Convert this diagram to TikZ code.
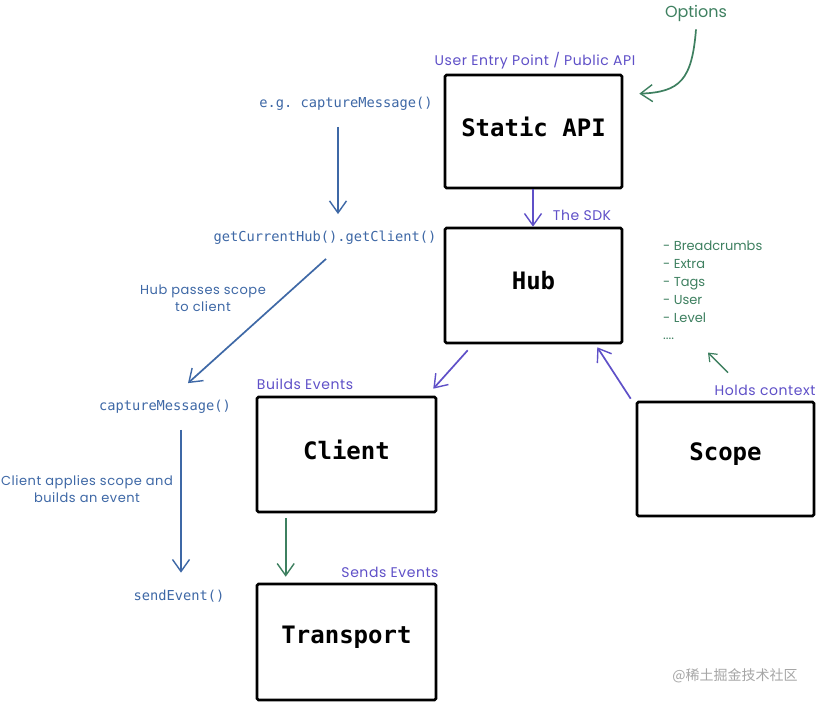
\documentclass[tikz,border=0pt]{standalone}
\usepackage{fontspec}
\setmainfont{Poppins}
\setmonofont{DejaVu Sans Mono}
\newfontfamily\cjkfont{Noto Sans CJK SC}
\newfontfamily\handfont[LetterSpace=4]{Poppins}
\usetikzlibrary{arrows.meta,calc}
\definecolor{blueC}{RGB}{62,104,166}
\definecolor{purpC}{RGB}{95,80,200}
\definecolor{greenC}{RGB}{62,128,96}
\tikzset{
  box/.style={draw=black,line width=2.6pt,rounded corners=1.5pt,fill=white},
  boxtext/.style={font=\ttfamily\bfseries\fontsize{24}{28}\selectfont},
  code/.style={text=blueC,font=\ttfamily\fontsize{13.7}{16}\selectfont,inner sep=2pt},
  hand/.style={font=\handfont\fontsize{14}{16}\selectfont,inner sep=1pt},
  arr/.style={line width=1.7pt,-{Straight Barb[length=12pt,width=17pt,line width=1.4pt]}},
}
\begin{document}
\begin{tikzpicture}[x=1pt,y=-1pt]
\useasboundingbox[fill=white] (0,0) rectangle (828,704);
% boxes
\node[box,minimum width=177pt,minimum height=113pt] (static) at (533.5,131.5) {};
\node[boxtext] at (533.5,127) {Static API};
\node[box,minimum width=177pt,minimum height=115pt] (hub) at (533.5,285.5) {};
\node[boxtext] at (533.5,281) {Hub};
\node[box,minimum width=179pt,minimum height=115pt] (client) at (346.5,454.5) {};
\node[boxtext] at (346.5,450) {Client};
\node[box,minimum width=177pt,minimum height=114pt] (scope) at (725.5,459) {};
\node[boxtext] at (725.5,454) {Scope};
\node[box,minimum width=179pt,minimum height=116pt] (transport) at (346.5,642) {};
\node[boxtext] at (346.5,637) {Transport};
% labels
\node[hand,text=greenC,font=\rmfamily\fontsize{16}{18}\selectfont] (opt) at (696,13) {Options};
\node[hand,text=purpC] (uep) at (535,61) {User Entry Point / Public API};
\node[hand,text=purpC] (sdk) at (582,215) {The SDK};
\node[hand,text=purpC] (be) at (305,384) {Builds Events};
\node[hand,text=purpC] (se2) at (390,572) {Sends Events};
\node[hand,text=purpC] (hc) at (765,390) {Holds context};
\node[hand,text=greenC,anchor=north west,align=left,font=\rmfamily\fontsize{13}{17.8}\selectfont] (list) at (662,240)
  {- Breadcrumbs\\- Extra\\- Tags\\- User\\- Level\\....};
\node[hand,text=blueC,align=center,font=\handfont\fontsize{13}{17}\selectfont] (hps) at (203,298) {Hub passes scope\\to client};
\node[hand,text=blueC,align=center,font=\handfont\fontsize{13}{17}\selectfont] (cas) at (87,489) {Client applies scope and\\builds an event};
\node[code] (eg) at (346,104) {e.g. captureMessage()};
\node[code] (gh) at (325,238) {getCurrentHub().getClient()};
\node[code] (cm) at (165,407) {captureMessage()};
\node[code] (se) at (179,596) {sendEvent()};
\node[text=gray!70,font=\cjkfont\fontsize{14}{16}\selectfont] (wm) at (735,676) {@稀土掘金技术社区};
% arrows
\draw[arr,greenC] ($(opt.south)+(0,7)$) .. controls (692,80) and (680,92) .. ($(static.north east)+(16,20)$);
\draw[arr,purpC] ($(static.south)+(-0.5,0)$) -- ($(hub.north)+(-0.5,0)$);
\draw[arr,blueC] ($(eg.south)+(-8,14)$) -- ($(gh.north)+(13,-15)$);
\draw[arr,blueC] ($(gh.south)+(1,12)$) -- ($(cm.north)+(23,-15)$);
\draw[arr,blueC] ($(cm.south)+(16,14)$) -- ($(se.north)+(2,-15)$);
\draw[arr,purpC] ($(hub.south west)+(24,6)$) -- ($(client.north east)+(-4,-7)$);
\draw[arr,purpC] ($(scope.north west)+(-5,-2)$) -- ($(hub.south east)+(-26,3)$);
\draw[arr,greenC] ($(client.south west)+(30,5)$) -- ($(transport.north west)+(30,-6)$);
\draw[greenC,line width=1.4pt,-{Straight Barb[length=7pt,width=11pt,line width=1.2pt]}] ($(hc.north)+(-37,-11)$) -- ($(hc.north)+(-57,-31)$);
\end{tikzpicture}
\end{document}
